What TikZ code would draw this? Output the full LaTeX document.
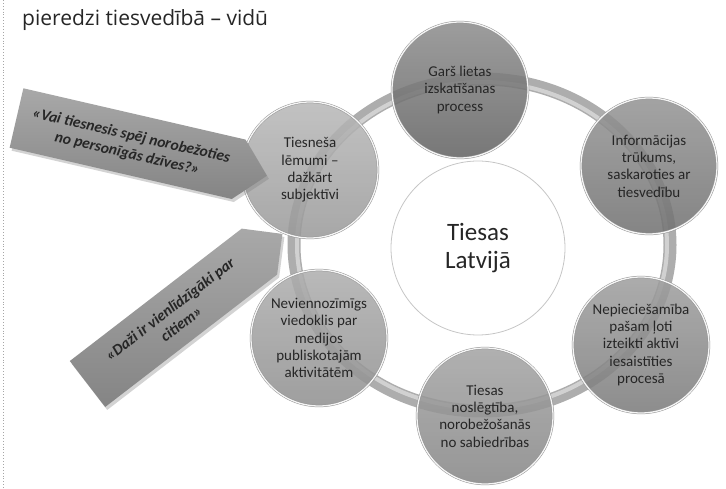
\documentclass[tikz,border=0pt]{standalone}
\usepackage{fontspec}
\setmainfont{Carlito}
\newfontfamily\titlefont{Open Sans}
\usetikzlibrary{shadows}
\definecolor{txt}{HTML}{262626}
\definecolor{ringc}{HTML}{ADADAD}
\begin{document}
\begin{tikzpicture}[x=1pt,y=-1pt,
  bubble/.style n args={2}{circle,minimum size=136pt,inner sep=0pt,align=center,
    font=\fontsize{15}{17.3}\selectfont,text=txt,
    top color=#1,bottom color=#2,fill opacity=0.86,text opacity=1,
    draw=gray!85,double=white!92!gray,double distance=1.3pt,line width=0.5pt},
  arrowfill/.style={top color=black!34,bottom color=black!48,
    drop shadow={shadow xshift=2pt,shadow yshift=-3pt,opacity=0.35}},
  qtext/.style={transform shape,inner sep=0pt,align=center,text=txt,
    font=\fontsize{15.5}{18.5}\selectfont\bfseries\itshape},
]
\useasboundingbox (0,0) rectangle (726,489);
% dotted margin line
\draw[gray!70,dotted,line width=0.9pt] (3,0) -- (3,489);
% title
\node[anchor=base west,inner sep=0pt,font=\titlefont\fontsize{21}{24}\selectfont,text=black!85] (title) at (22,26) {pieredzi tiesvedībā – vidū};
% ring
\draw[line width=13pt,ringc] (482,245) ellipse [x radius=188,y radius=166];
\draw[line width=4pt,white,opacity=0.45] (482,245) ellipse [x radius=185,y radius=163];
% circles
\node[bubble={black!45}{black!62}] (c1) at (460,90) {Garš lietas\\izskatīšanas\\process};
\node[bubble={black!42}{black!56}] (c2) at (649,166) {Informācijas\\trūkums,\\saskaroties ar\\tiesvedību};
\node[bubble={black!38}{black!52}] (c3) at (641,345) {Nepieciešamība\\pašam ļoti\\izteikti aktīvi\\iesaistīties\\procesā};
\node[bubble={black!36}{black!48}] (c4) at (485,416) {Tiesas\\noslēgtība,\\norobežošanās\\no sabiedrības};
\node[bubble={black!32}{black!44}] (c5) at (319,338) {Neviennozīmīgs\\viedoklis par\\medijos\\publiskotajām\\aktivitātēm};
\node[bubble={black!28}{black!40}] (c6) at (310,170) {Tiesneša\\lēmumi –\\dažkārt\\subjektīvi};
% centre
\node[circle,minimum size=174pt,inner sep=0pt,align=center,draw=gray!45,line width=0.8pt,fill=white,
  font=\fontsize{25}{28}\selectfont,text=txt] (centre) at (478,248) {Tiesas\\Latvijā};
% callout arrow 1
\begin{scope}[shift={(16.5,118)},rotate=-13]
  \path[arrowfill] (0,-30.5) -- (228,-30.5) -- (257,0) -- (228,30.5) -- (0,30.5) -- cycle;
  \node[qtext] (q1) at (116,1) {«Vai tiesnesis spēj norobežoties\\no personīgās dzīves?»};
\end{scope}
% callout arrow 2
\begin{scope}[shift={(87.5,384)},rotate=37.6]
  \path[arrowfill] (0,-29) -- (217,-29) -- (246,0) -- (217,29) -- (0,29) -- cycle;
  \node[qtext] (q2) at (111,0) {«Daži ir vienlīdzīgāki par\\citiem»};
\end{scope}
\end{tikzpicture}
\end{document}
